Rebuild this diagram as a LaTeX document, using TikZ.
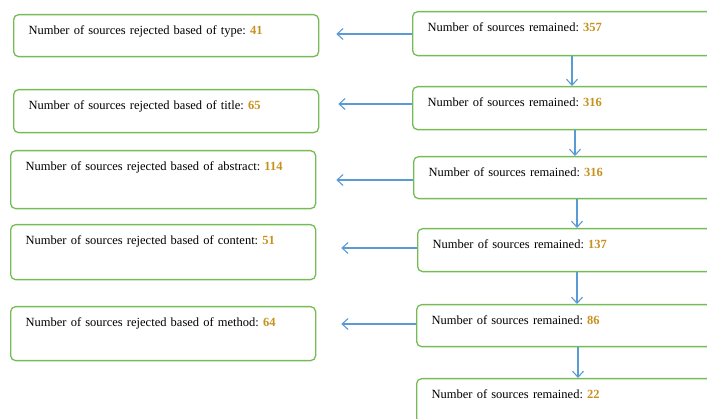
\documentclass[tikz,border=0pt]{standalone}
\usepackage{fontspec}
\setmainfont{Liberation Serif}
\usetikzlibrary{arrows.meta}

\definecolor{boxgreen}{RGB}{118,188,86}
\definecolor{flowblue}{RGB}{91,155,213}
\definecolor{numgold}{RGB}{199,145,30}
\newcommand{\cnt}[1]{\textbf{\textcolor{numgold}{#1}}}
\frenchspacing

\begin{document}
\begin{tikzpicture}[x=1pt,y=-1pt,
    every node/.style={font=\fontsize{12.5}{14}\selectfont},
    rejbox/.style={draw=boxgreen,line width=1.3pt,rounded corners=5pt,anchor=north west,
        align=left,text width=275pt,inner xsep=15pt,inner ysep=12pt,text height=8pt,text depth=#1},
    keepbox/.style={rejbox=#1,text width=300pt},
    flow/.style={draw=flowblue,line width=1.1pt,-{Straight Barb[length=6pt,width=11pt]}}]
    \clip (0,0) rectangle (707,419);
    % rejected sources (left column)
    \node[rejbox=10pt] (rej1) at (13,14)  {Number of sources rejected based of type: \cnt{41}};
    \node[rejbox=11pt] (rej2) at (13,89)  {Number of sources rejected based of title: \cnt{65}};
    \node[rejbox=26pt] (rej3) at (10,150) {Number of sources rejected based of abstract: \cnt{114}};
    \node[rejbox=23pt] (rej4) at (10,224) {Number of sources rejected based of content: \cnt{51}};
    \node[rejbox=22pt] (rej5) at (10,306) {Number of sources rejected based of method: \cnt{64}};
    % remaining sources (right column)
    \node[keepbox=12pt] (rem1) at (412,11)  {Number of sources remained: \cnt{357}};
    \node[keepbox=11pt] (rem2) at (412,86)  {Number of sources remained: \cnt{316}};
    \node[keepbox=10pt] (rem3) at (413,156) {Number of sources remained: \cnt{316}};
    \node[keepbox=11pt] (rem4) at (417,228) {Number of sources remained: \cnt{137}};
    \node[keepbox=10pt] (rem5) at (416,304) {Number of sources remained: \cnt{86}};
    \node[keepbox=13pt] (rem6) at (416,378) {Number of sources remained: \cnt{22}};
    % left arrows
    \coordinate (out1) at ([yshift=-23pt]rem1.north west);
    \coordinate (out2) at ([yshift=-18pt]rem2.north west);
    \coordinate (out3) at ([yshift=-24pt]rem3.north west);
    \coordinate (out4) at ([yshift=-20pt]rem4.north west);
    \coordinate (out5) at ([yshift=-20pt]rem5.north west);
    \draw[flow] (out1) -- ([xshift=17pt]out1 -| rej1.east);
    \draw[flow] (out2) -- ([xshift=19pt]out2 -| rej2.east);
    \draw[flow] (out3) -- ([xshift=20pt]out3 -| rej3.east);
    \draw[flow] (out4) -- ([xshift=25pt]out4 -| rej4.east);
    \draw[flow] (out5) -- ([xshift=25pt]out5 -| rej5.east);
    % down arrows
    \draw[flow] ([xshift=160pt]rem1.south west) -- ([xshift=160pt]rem1.south west |- rem2.north);
    \draw[flow] ([xshift=163pt]rem2.south west) -- ([xshift=163pt]rem2.south west |- rem3.north);
    \draw[flow] ([xshift=164pt]rem3.south west) -- ([xshift=164pt]rem3.south west |- rem4.north);
    \draw[flow] ([xshift=160pt]rem4.south west) -- ([xshift=160pt]rem4.south west |- rem5.north);
    \draw[flow] ([xshift=162pt]rem5.south west) -- ([xshift=162pt]rem5.south west |- rem6.north);
\end{tikzpicture}
\end{document}
